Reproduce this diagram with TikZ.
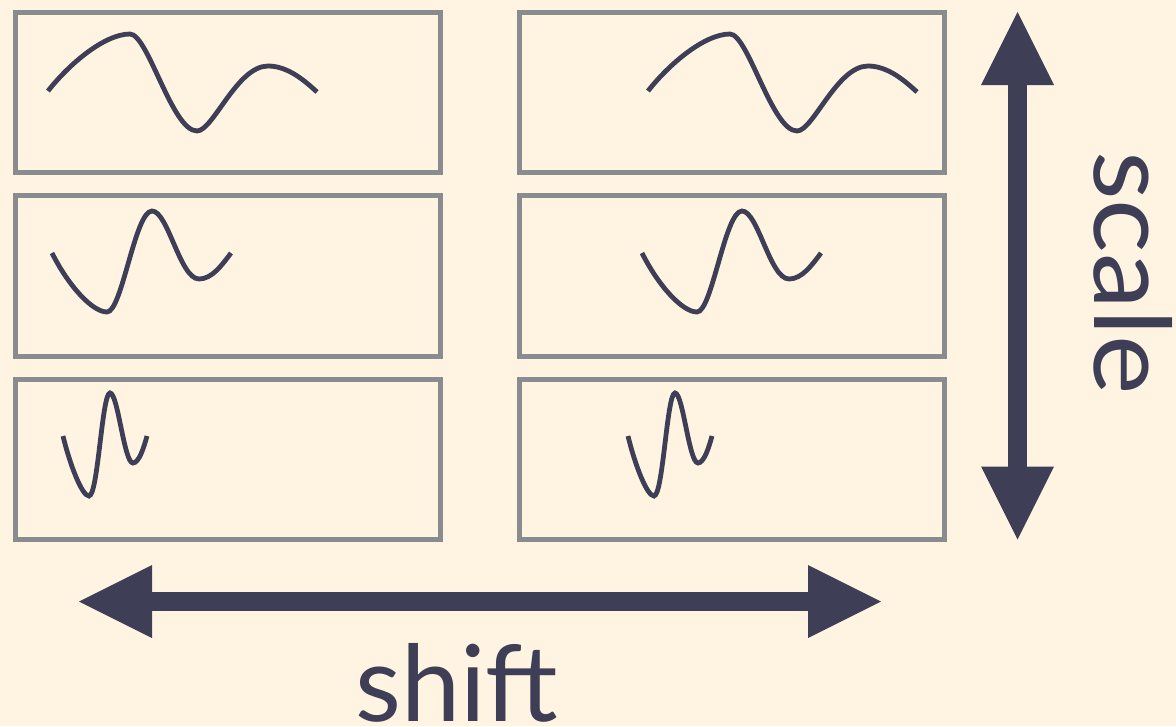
\documentclass[tikz,border=0pt]{standalone}
\usepackage{fontspec}
\setmainfont{Lato}
\usetikzlibrary{arrows.meta}
\definecolor{bg}{HTML}{FFF4E2}
\definecolor{frame}{HTML}{8A8B8F}
\definecolor{ink}{HTML}{3E3F56}
\begin{document}
\begin{tikzpicture}[x=1pt,y=-1pt,
  panel/.style={draw=frame, line width=5pt, fill=bg, rectangle, minimum width=425pt, minimum height=160.5pt, inner sep=0pt},
  wave/.style={draw=ink, line width=4.8pt},
  bigarrow/.style={draw=ink, line width=18.5pt, {Triangle[length=73pt,width=73pt,line width=0pt]}-{Triangle[length=73pt,width=73pt,line width=0pt]}},
  lbl/.style={text=ink, inner sep=0pt, font=\fontsize{106}{120}\selectfont}]
\fill[bg] (0,0) rectangle (1176,726);
\useasboundingbox (0,0) rectangle (1176,726);
% panels
\node[panel] (p11) at (228,92.25) {};
\node[panel] (p12) at (732.25,92.25) {};
\node[panel] (p21) at (228,275.75) {};
\node[panel] (p22) at (732.25,275.75) {};
\node[panel] (p31) at (228,459.5) {};
\node[panel] (p32) at (732.25,459.5) {};
% waves
\foreach \dx in {0,600}{
  \draw[wave, xshift=\dx] (48,91) .. controls (70,63) and (105,34) .. (130,34)
    .. controls (148,34) and (172,131) .. (197,131)
    .. controls (213,131) and (237,66) .. (268,66)
    .. controls (288,66) and (305,81) .. (317,92);
}
\foreach \dx in {0,590}{
  \draw[wave, xshift=\dx] (52,253) .. controls (68,285) and (92,312) .. (107,312)
    .. controls (122,312) and (135,211) .. (152,211)
    .. controls (168,211) and (180,279) .. (199,279)
    .. controls (212,279) and (222,265) .. (231,253);
}
\foreach \dx in {0,565}{
  \draw[wave, xshift=\dx] (63,436) .. controls (70,465) and (82,496) .. (89,496)
    .. controls (98,496) and (102,393) .. (110,393)
    .. controls (118,393) and (124,463) .. (133,463)
    .. controls (139,463) and (144,447) .. (147,436);
}
% arrows
\coordinate (hl) at (79,601.5);
\coordinate (hr) at (881,601.5);
\draw[bigarrow] (hl) -- (hr);
\coordinate (vt) at (1017.5,12);
\coordinate (vb) at (1017.5,539.5);
\draw[bigarrow] (vt) -- (vb);
% labels
\node[lbl, anchor=base west] (shiftlbl) at (355,721) {shift};
\node[lbl, rotate=-90, anchor=base west] (scalelbl) at (1094,151) {\scalebox{1.06}[1]{scale}};
\end{tikzpicture}
\end{document}
